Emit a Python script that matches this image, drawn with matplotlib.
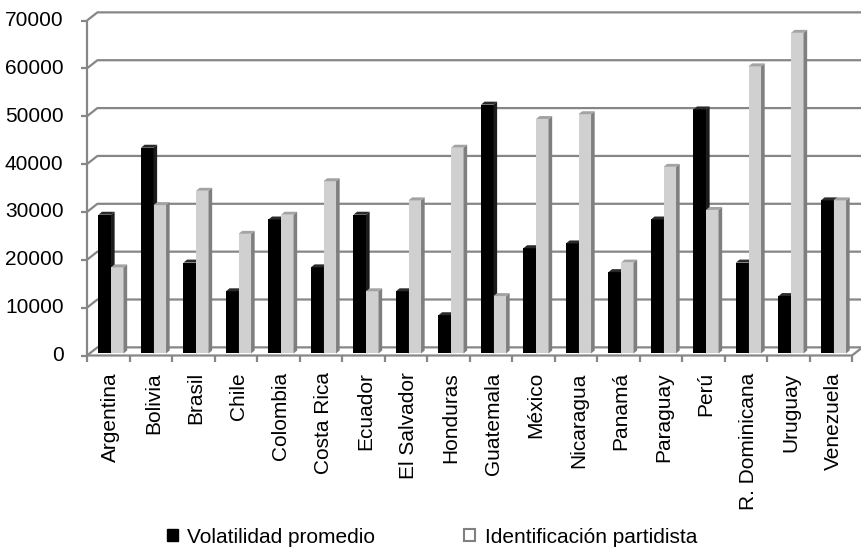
import numpy as np
import matplotlib
matplotlib.use('Agg')
import matplotlib.pyplot as plt
from matplotlib.patches import Polygon, Patch

plt.rcParams['font.family'] = ['Liberation Sans', 'DejaVu Sans']

paises = ['Argentina', 'Bolivia', 'Brasil', 'Chile', 'Colombia', 'Costa Rica',
          'Ecuador', 'El Salvador', 'Honduras', 'Guatemala', 'México',
          'Nicaragua', 'Panamá', 'Paraguay', 'Perú', 'R. Dominicana',
          'Uruguay', 'Venezuela']
volatilidad = [29000, 43000, 19000, 13000, 28000, 18000, 29000, 13000, 8000,
               52000, 22000, 23000, 17000, 28000, 51000, 19000, 12000, 32000]
identificacion = [18000, 31000, 34000, 25000, 29000, 36000, 13000, 32000, 43000,
                  12000, 49000, 50000, 19000, 39000, 30000, 60000, 67000, 32000]
y_ticks = np.arange(0, 70001, 10000)

# depth of the box (category units, value units)
DX, DY = 0.245, 1700
# depth of each bar
SDX, SDY = 0.085, 620
BW = 0.295
B0 = 420
grid_c = '#868686'
FS = 15

fig = plt.figure(figsize=(8.61, 5.48), dpi=100)
ax = fig.add_axes([87.0 / 861, (548 - 355.5) / 548, 765.0 / 861, 335.0 / 548])
ax.set_xlim(0, 18)
ax.set_ylim(0, 70000)
ax.axis('off')

kw = dict(color=grid_c, lw=1.6, clip_on=False, solid_capstyle='butt')

# back wall gridlines + side wall diagonals
for v in y_ticks:
    ax.plot([0, DX, 18 + DX], [v, v + DY, v + DY], zorder=1, **kw)
    ax.plot([-0.15, 0], [v, v], zorder=1, **kw)
    ax.text(-0.55, v, str(v), ha='right', va='center', fontsize=FS)

# side wall front edge
ax.plot([0, 0], [0, 70000], zorder=1, **kw)
# floor edges
ax.plot([0, 18, 18 + DX], [0, 0, DY], zorder=1, **kw)
for i in range(19):
    ax.plot([i, i], [0, -1300], zorder=1, **kw)


def bar3d(x, h, front, side, top):
    ax.bar(x, h, width=BW, bottom=B0, align='edge', color=front,
           linewidth=0, zorder=3)
    xl, xr, t = x, x + BW, B0 + h
    ax.add_patch(Polygon([(xr, B0), (xr + SDX, B0 + SDY), (xr + SDX, t + SDY), (xr, t)],
                         closed=True, facecolor=side, edgecolor='none', zorder=3))
    ax.add_patch(Polygon([(xl, t), (xl + SDX, t + SDY), (xr + SDX, t + SDY), (xr, t)],
                         closed=True, facecolor=top, edgecolor='none', zorder=3))


for i in range(len(paises)):
    x0 = i + 0.27
    bar3d(x0, volatilidad[i], '#000000', '#1c1c1c', '#2a2a2a')
    bar3d(x0 + BW, identificacion[i], '#d0d0d0', '#7f7f7f', '#a3a3a3')
    ax.text(i + 0.56, -3500, paises[i], rotation=90, ha='center', va='top',
            fontsize=FS)

handles = [Patch(facecolor='black', edgecolor='black'),
           Patch(facecolor='white', edgecolor='#808080', linewidth=1.5)]
fig.legend(handles, ['Volatilidad promedio', 'Identificación partidista'],
           loc='lower left', bbox_to_anchor=(152 / 861, -0.024), ncol=2,
           frameon=False, fontsize=FS, handlelength=0.55, handleheight=0.55,
           handletextpad=0.45, columnspacing=4.25, borderpad=0.2)

fig.savefig('out.png', dpi=100)
